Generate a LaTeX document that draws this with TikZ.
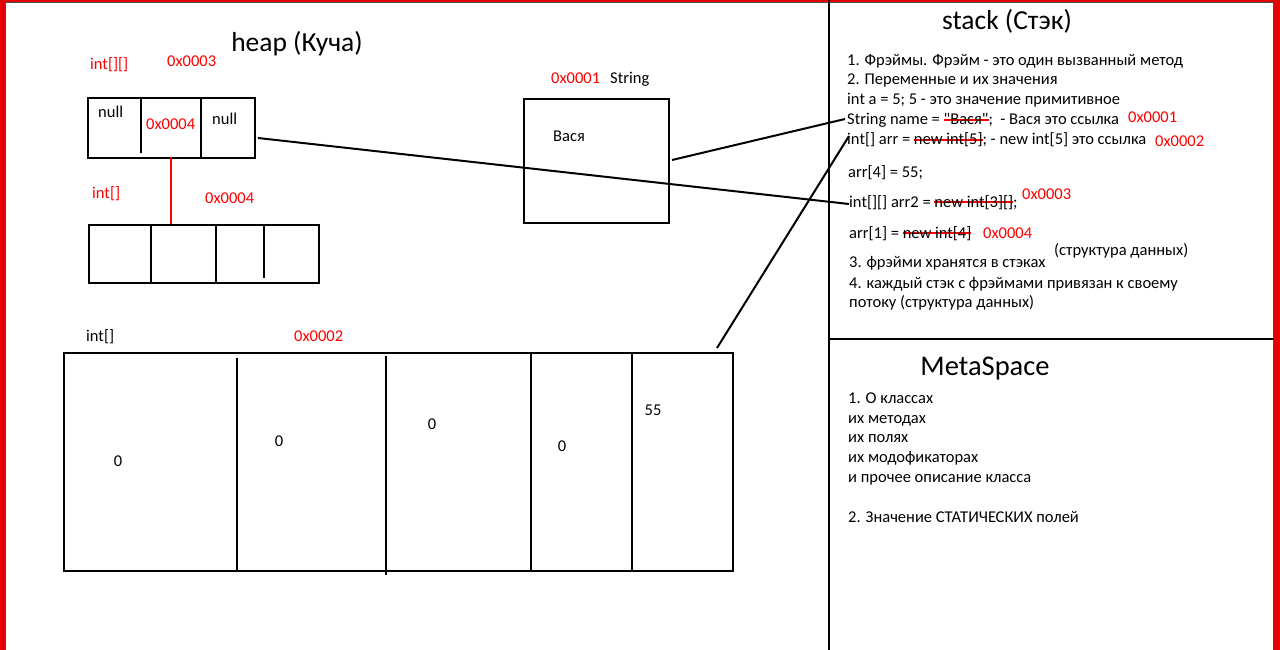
\documentclass[tikz,border=0pt]{standalone}
\usepackage{fontspec}
\setmainfont{Carlito}
\newfontfamily\plainf{Carlito}
\usetikzlibrary{calc}
\newcommand\strk[1]{{\setbox0\hbox{#1}\rlap{\textcolor{red}{\rule[0.27em]{\wd0}{1.6pt}}}\box0}}
\begin{document}
\begin{tikzpicture}[x=1pt,y=-1pt,
  txt/.style={anchor=base west,inner sep=0pt,font=\fontsize{16.5}{19}\selectfont},
  rtxt/.style={txt,text=red},
  ctxt/.style={anchor=center,inner sep=0pt,font=\fontsize{16.5}{19}\selectfont},
  ttl/.style={anchor=base,inner sep=0pt,font=\fontsize{27.5}{31}\selectfont},
  box/.style={draw,line width=2pt,anchor=north west,inner sep=0pt},
  ln/.style={line width=2pt},
  conn/.style={line width=2pt},
]
\useasboundingbox (0,0) rectangle (1280,650);
\fill[white] (0,0) rectangle (1280,650);
% frame
\fill[red!90!black] (0,0) rectangle (4.5,650);
\fill[red!90!black] (0,0) rectangle (1280,2.5);
\fill[red!90!black] (1274,0) rectangle (1280,650);
\draw[line width=1pt,black!70] (5,650) -- (5,3) -- (1273,3) -- (1273,650);
% dividers
\draw[ln] (829,0) -- (829,650);
\draw[ln] (829,339) -- (1274,339);

% ---------- heap ----------
\node[ttl] (heapt) at (297,52) {heap (Куча)};
\node[rtxt] (l2d) at (90,70) {int[][]};
\node[rtxt] (a3) at (167,67) {0x0003};
\node[box,minimum width=167,minimum height=60] (arrA) at (87,97) {};
\draw[ln] (141,97) -- (141,153);
\draw[ln] (201,97) -- (201,157);
\node[txt] (n1) at (98,118) {null};
\node[rtxt] (a4a) at (146,130) {0x0004};
\node[txt] (n2) at (212,125) {null};

\node[rtxt] (l1d) at (92,198) {int[]};
\node[rtxt] (a4b) at (205,203) {0x0004};
\node[box,minimum width=230,minimum height=58] (arrB) at (88,224) {};
\draw[ln] (151,224) -- (151,282);
\draw[ln] (216,224) -- (216,282);
\draw[ln] (264,224) -- (264,278);
\coordinate (r1) at (171,157);
\coordinate (r2) at (171,224);
\draw[conn,red] (r1) -- (r2);

\node[rtxt] (a1) at (551,84) {0x0001};
\node[txt] (strl) at (610,84) {String};
\node[box,minimum width=145,minimum height=124] (sbox) at (523,98) {};
\node[txt] (vasya) at (553,142) {Вася};

\node[txt] (l1c) at (86,341) {int[]};
\node[rtxt] (a2) at (294,341) {0x0002};
\node[box,minimum width=669,minimum height=218] (arrC) at (63,352) {};
\draw[ln] (237,358) -- (237,570);
\draw[ln] (386,356) -- (386,575);
\draw[ln] (531,352) -- (531,570);
\draw[ln] (632,352) -- (632,570);
\node[ctxt] (v1) at (118,461) {0};
\node[ctxt] (v2) at (279,441) {0};
\node[ctxt] (v3) at (432,424) {0};
\node[ctxt] (v4) at (562,446) {0};
\node[ctxt] (v5) at (653,410) {55};

% ---------- stack ----------
\node[ttl] (stackt) at (1007,30) {stack (Стэк)};
\node[txt] (s1) at (847,66) {1. Фрэймы. Фрэйм - это один вызванный метод};
\node[txt] (s2) at (847,85) {2. Переменные и их значения};
\node[txt] (s3) at (847,105) {int a = 5; 5 - это значение примитивное};
\node[txt] (s4) at (847,125) {String name = \strk{{\plainf "Вася"}};\ \ - Вася это ссылка};
\node[rtxt] (s4a) at (1128,123) {0x0001};
\node[txt] (s5) at (847,145) {int[] arr = \strk{new int[5]}; - new int[5] это ссылка};
\node[rtxt] (s5a) at (1155,147) {0x0002};
\node[txt] (s6) at (848,178) {arr[4] = 55;};
\node[txt] (s7) at (849,207) {int[][] arr2 = \strk{new int[3][]};};
\node[rtxt] (s7a) at (1022,199) {0x0003};
\node[txt] (s8) at (849,238) {arr[1] = \strk{new int[4]}};
\node[rtxt] (s8a) at (983,238) {0x0004};
\node[txt] (s9) at (1054,255) {(структура данных)};
\node[txt] (s10) at (849,267) {3. фрэйми хранятся в стэках};
\node[txt] (s11) at (849,288) {4. каждый стэк с фрэймами привязан к своему};
\node[txt] (s12) at (849,307) {потоку (структура данных)};

% ---------- metaspace ----------
\node[ttl,font=\fontsize{28.5}{32}\selectfont] (metat) at (985,375) {MetaSpace};
\node[txt] (m1) at (848,403) {1. О классах};
\node[txt] (m2) at (848,423) {их методах};
\node[txt] (m3) at (848,442) {их полях};
\node[txt] (m4) at (848,462) {их модофикаторах};
\node[txt] (m5) at (848,482) {и прочее описание класса};
\node[txt] (m6) at (848,522) {2. Значение СТАТИЧЕСКИХ полей};

% ---------- connectors ----------
\coordinate (c1s) at (258,138);
\coordinate (c1e) at (849,204);
\draw[conn] (c1s) -- (c1e);
\coordinate (c2s) at (672,160);
\coordinate (c2e) at (845,119);
\draw[conn] (c2s) -- (c2e);
\coordinate (c3s) at (717,348);
\coordinate (c3e) at (849,136);
\draw[conn] (c3s) -- (c3e);
\end{tikzpicture}
\end{document}
